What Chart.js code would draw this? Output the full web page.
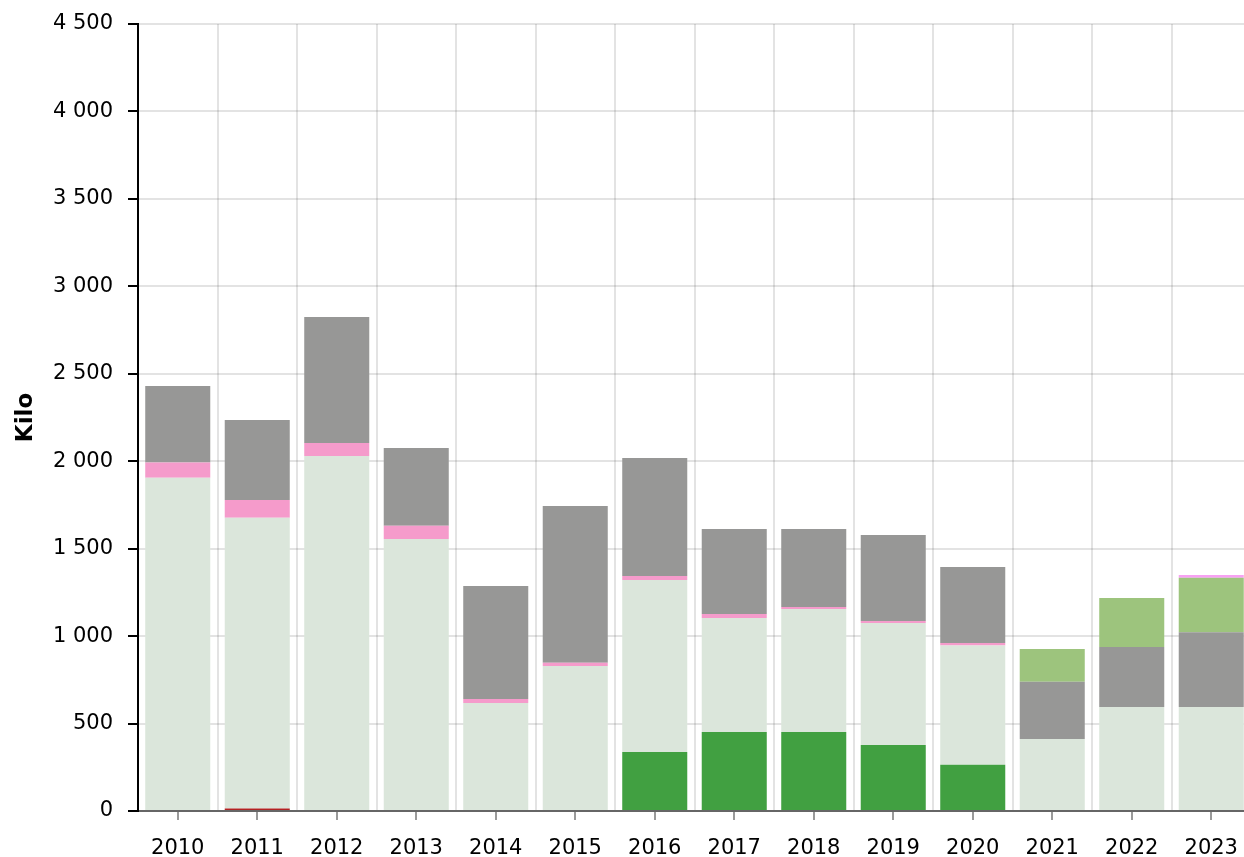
<!DOCTYPE html>
<html>
<head>
<meta charset="utf-8">
<script src="https://cdn.jsdelivr.net/npm/chart.js@4/dist/chart.umd.min.js"></script>
<style>
  html, body { margin: 0; padding: 0; background: #fff; overflow: hidden; }
  canvas { display: block; }
</style>
</head>
<body>
<canvas id="c" width="1251" height="857" style="width:1251px;height:857px"></canvas>
<script>
const categories = ['2010','2011','2012','2013','2014','2015','2016','2017','2018','2019','2020','2021','2022','2023'];
const darkRedValues   = [0, 15, 0, 0, 0, 0, 0, 0, 0, 0, 0, 0, 0, 0];
const darkGreenValues = [0, 0, 0, 0, 0, 0, 337, 452, 452, 377, 265, 0, 0, 0];
const paleValues      = [1906, 1662, 2030, 1555, 617, 829, 984, 652, 703, 698, 682, 412, 595, 595];
const pinkValues      = [86, 101, 74, 76, 23, 18, 23, 22, 11, 11, 14, 0, 0, 0];
const greyValues      = [438, 458, 721, 445, 647, 897, 674, 486, 446, 492, 434, 327, 343, 427];
const lightGreenValues= [0, 0, 0, 0, 0, 0, 0, 0, 0, 0, 0, 187, 280, 312];
const violetValues    = [0, 0, 0, 0, 0, 0, 0, 0, 0, 0, 0, 0, 0, 15];
const yTitle = 'Kilo';
const yMax = 4500, yStep = 500;

const FONT = '"DejaVu Sans", Verdana, sans-serif';
const fmt = v => String(v).replace(/\B(?=(\d{3})+(?!\d))/g, ' ');

function ds(label, data, color) {
  return { label, data, backgroundColor: color, borderWidth: 0,
           barPercentage: 1, categoryPercentage: 0.818 };
}

const xTickMarks = {
  id: 'xTickMarks',
  afterDraw(chart) {
    const x = chart.scales.x, ctx = chart.ctx;
    ctx.save();
    ctx.strokeStyle = '#9a9a9a';
    ctx.lineWidth = 2;
    for (let i = 0; i < categories.length; i++) {
      const px = Math.round(x.getPixelForValue(i));
      ctx.beginPath();
      ctx.moveTo(px, x.top + 1);
      ctx.lineTo(px, x.top + 9);
      ctx.stroke();
    }
    ctx.restore();
  }
};

new Chart(document.getElementById('c'), {
  type: 'bar',
  data: {
    labels: categories,
    datasets: [
      ds('a', darkRedValues, '#b22222'),
      ds('b', darkGreenValues, '#41a041'),
      ds('c', paleValues, '#dbe6db'),
      ds('d', pinkValues, '#f59bcb'),
      ds('e', greyValues, '#979796'),
      ds('f', lightGreenValues, '#9dc47d'),
      ds('g', violetValues, '#f7a1f3')
    ]
  },
  options: {
    responsive: false,
    maintainAspectRatio: false,
    animation: false,
    devicePixelRatio: 1,
    layout: { padding: { top: 24, left: 0, right: 0, bottom: 0 } },
    plugins: { legend: { display: false }, tooltip: { enabled: false } },
    scales: {
      x: {
        stacked: true,
        z: 1,
        grid: { offset: true, drawTicks: false, color: 'rgba(0,0,0,0.11)', lineWidth: 2 },
        border: { display: true, color: '#666', width: 2 },
        ticks: { color: '#000', font: { family: FONT, size: 21 }, padding: 25, maxRotation: 0, autoSkip: false },
        afterFit(s) { s.height = 46; s.paddingLeft = 0; s.paddingRight = 0; }
      },
      y: {
        stacked: true,
        z: 1,
        min: 0, max: yMax,
        grid: { color: 'rgba(0,0,0,0.11)', lineWidth: 2, tickColor: '#000', tickLength: 10, tickWidth: 2 },
        border: { display: true, color: '#000', width: 2 },
        ticks: { stepSize: yStep, color: '#000', font: { family: FONT, size: 21 }, padding: 15, callback: v => fmt(v) },
        title: { display: true, text: yTitle, color: '#000', font: { family: FONT, size: 23, weight: 'bold' }, padding: { top: 12, bottom: 0 } },
        afterFit(s) { s.width = 138; s.paddingTop = 0; s.paddingBottom = 0; }
      }
    }
  },
  plugins: [xTickMarks]
});
</script>
</body>
</html>
